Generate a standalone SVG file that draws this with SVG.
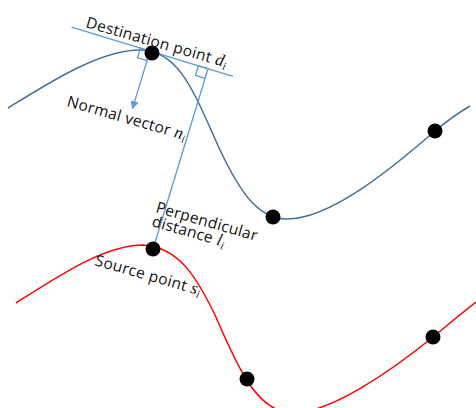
<svg xmlns="http://www.w3.org/2000/svg" width="476" height="408" viewBox="0 0 476 408">
  <style>
    .curve-d { fill: none; stroke: #41719C; stroke-width: 1.5; }
    .curve-s { fill: none; stroke: #FF0000; stroke-width: 1.5; }
    .guide { fill: none; stroke: #5B9BD5; stroke-width: 1.3; }
    .pt { fill: #000000; }
    .lbl { font-family: "Open Sans", "Noto Sans", "DejaVu Sans", sans-serif; font-size: 15.5px; letter-spacing: 0.3px; fill: #111111; }
    .math { font-family: "Liberation Serif", "DejaVu Serif", serif; font-style: italic; font-size: 17px; }
    .sub { font-family: "Liberation Serif", "DejaVu Serif", serif; font-style: italic; font-size: 11px; }
  </style>
  <defs>
    <marker id="arrow" viewBox="0 0 10 10" refX="9" refY="5" markerWidth="8" markerHeight="8" markerUnits="userSpaceOnUse" orient="auto">
      <path d="M0,0 L10,5 L0,10 Z" fill="#5B9BD5"/>
    </marker>
  </defs>

  <!-- destination curve -->
  <g id="destination-curve">
    <path class="curve-d" d="M8,108 C50,82 100,50 140,50 C180,50 195,95 220,150 C240,192 258,219 287,219 C330,219 390,170 435,131 C447,121 458,113 470,106"/>
  </g>

  <!-- source curve -->
  <g id="source-curve">
    <path class="curve-s" d="M16,303 C60,275 105,245 143,245 C180,247 198,280 215,315 C235,360 255,413 293,413 C330,413 390,372 433,337 C450,323 463,312 476,302"/>
  </g>

  <!-- tangent, normal and perpendicular lines -->
  <g id="connectors">
    <line class="guide" x1="71.6" y1="27.1" x2="233" y2="76.4"/>
    <line class="guide" x1="150" y1="51" x2="132.5" y2="108.4" marker-end="url(#arrow)"/>
    <line class="guide" x1="208" y1="68.7" x2="153" y2="249"/>
    <g transform="translate(150,51) rotate(17)">
      <path class="guide" d="M0,0 H-10 V10 H0"/>
    </g>
    <g transform="translate(208,68.7) rotate(17)">
      <path class="guide" d="M0,0 H-10 V10 H0"/>
    </g>
  </g>

  <!-- points on the destination curve -->
  <g id="dest-point-i"><circle class="pt" cx="152" cy="53" r="7.5"/></g>
  <g id="dest-point-2"><circle class="pt" cx="273" cy="217" r="7.5"/></g>
  <g id="dest-point-3"><circle class="pt" cx="435" cy="131" r="7.5"/></g>

  <!-- points on the source curve -->
  <g id="src-point-i"><circle class="pt" cx="153" cy="249" r="7.5"/></g>
  <g id="src-point-2"><circle class="pt" cx="247" cy="379" r="7.5"/></g>
  <g id="src-point-3"><circle class="pt" cx="433" cy="337" r="7.5"/></g>

  <!-- labels -->
  <g id="label-destination">
    <text class="lbl" transform="translate(85,27) rotate(16)">Destination point <tspan class="math">d</tspan><tspan class="sub" dy="3">i</tspan></text>
  </g>
  <g id="label-normal">
    <text class="lbl" transform="translate(66,106) rotate(16)">Normal vector <tspan class="math">n</tspan><tspan class="sub" dy="3">i</tspan></text>
  </g>
  <g id="label-perpendicular">
    <text class="lbl" transform="translate(155,212) rotate(16)">Perpendicular</text>
    <text class="lbl" transform="translate(151,226) rotate(16)">distance <tspan class="math">l</tspan><tspan class="sub" dy="3">i</tspan></text>
  </g>
  <g id="label-source">
    <text class="lbl" transform="translate(94,265) rotate(16)">Source point <tspan class="math">s</tspan><tspan class="sub" dy="3">i</tspan></text>
  </g>
</svg>
